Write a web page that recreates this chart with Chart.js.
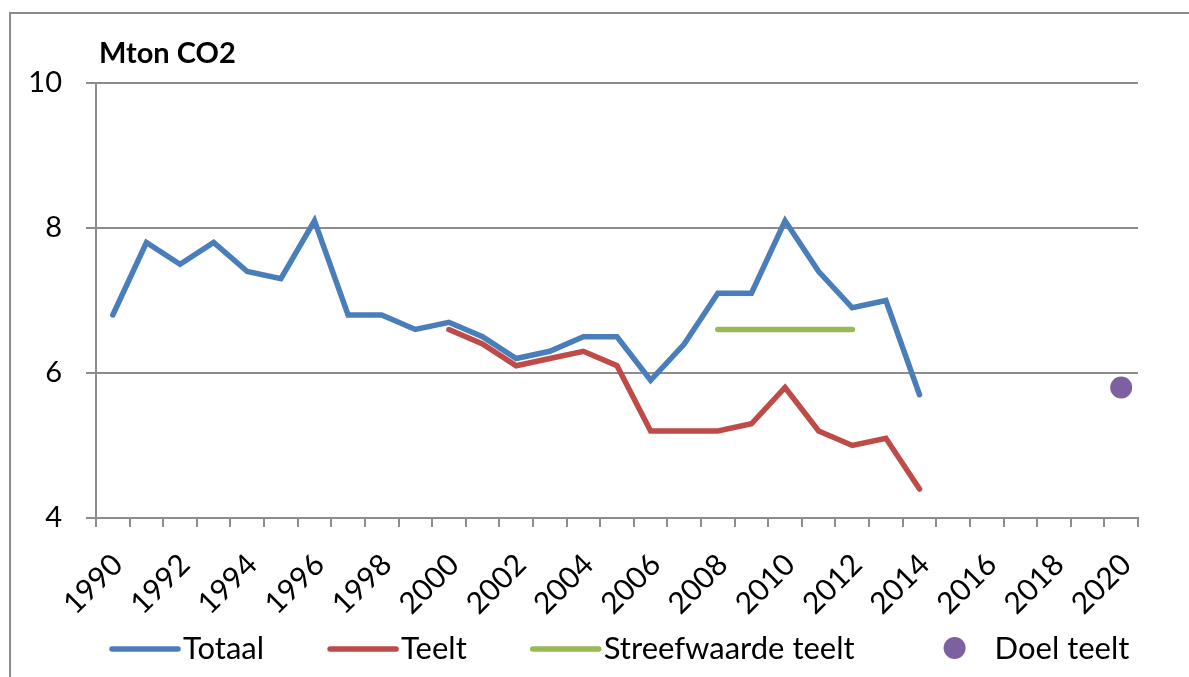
<!DOCTYPE html>
<html>
<head>
<meta charset="utf-8">
<script src="https://cdn.jsdelivr.net/npm/chart.js@4/dist/chart.umd.min.js"></script>
<style>
  html, body { margin: 0; padding: 0; background: #fff; }
  #wrap { width: 1189px; height: 677px; position: relative; }
</style>
</head>
<body>
<div id="wrap"><canvas id="co2Chart" width="1189" height="677"></canvas></div>
<script>
// Years on the category axis
const years = ['1990','1991','1992','1993','1994','1995','1996','1997','1998','1999',
               '2000','2001','2002','2003','2004','2005','2006','2007','2008','2009',
               '2010','2011','2012','2013','2014','2015','2016','2017','2018','2019','2020'];

// Mton CO2 per year (null = no value)
const totaal = [6.8, 7.8, 7.5, 7.8, 7.4, 7.3, 8.1, 6.8, 6.8, 6.6,
                6.7, 6.5, 6.2, 6.3, 6.5, 6.5, 5.9, 6.4, 7.1, 7.1,
                8.1, 7.4, 6.9, 7.0, 5.7, null, null, null, null, null, null];
const teelt = [null, null, null, null, null, null, null, null, null, null,
               6.6, 6.4, 6.1, 6.2, 6.3, 6.1, 5.2, 5.2, 5.2, 5.3,
               5.8, 5.2, 5.0, 5.1, 4.4, null, null, null, null, null, null];
const streefwaarde = [null, null, null, null, null, null, null, null, null, null,
                      null, null, null, null, null, null, null, null, 6.6, 6.6,
                      6.6, 6.6, 6.6, null, null, null, null, null, null, null, null];
const doel = [null, null, null, null, null, null, null, null, null, null,
              null, null, null, null, null, null, null, null, null, null,
              null, null, null, null, null, null, null, null, null, null, 5.8];

const yTicks = [4, 6, 8, 10];

const FONT = 'Lato, "Open Sans", sans-serif';
const GRID = '#8c8c8c';

// frame, title and legend drawn like the spreadsheet original
const decorPlugin = {
    id: 'decor',
    beforeDraw(chart) {
        const ctx = chart.ctx;
        ctx.save();
        ctx.strokeStyle = GRID;
        ctx.lineWidth = 2;
        ctx.beginPath();
        ctx.moveTo(10, chart.height);
        ctx.lineTo(10, 13);
        ctx.lineTo(chart.width, 13);
        ctx.stroke();
        ctx.restore();
    },
    afterDraw(chart) {
        const ctx = chart.ctx;
        const area = chart.chartArea;
        ctx.save();
        ctx.fillStyle = '#000';
        ctx.font = 'bold 29px ' + FONT;
        ctx.textBaseline = 'alphabetic';
        ctx.fillText('Mton CO2', area.left + 3, 63);

        ctx.font = '31px ' + FONT;
        ctx.textBaseline = 'middle';
        let x = 110;
        const y = 649;
        chart.data.datasets.forEach(ds => {
            if (ds.showLine === false) {
                ctx.fillStyle = ds.pointBackgroundColor;
                ctx.beginPath();
                ctx.arc(x + 36, y - 1, 11, 0, Math.PI * 2);
                ctx.fill();
            } else {
                ctx.strokeStyle = ds.borderColor;
                ctx.lineWidth = 5.5;
                ctx.lineCap = 'round';
                ctx.beginPath();
                ctx.moveTo(x + 2, y);
                ctx.lineTo(x + 68, y);
                ctx.stroke();
            }
            const tx = x + (ds.showLine === false ? 76 : 73);
            ctx.fillStyle = '#000';
            ctx.fillText(ds.label, tx, y);
            x = tx + ctx.measureText(ds.label).width + 64;
        });
        ctx.restore();
    }
};

const ctx = document.getElementById('co2Chart').getContext('2d');
const co2Chart = new Chart(ctx, {
    type: 'line',
    data: {
        labels: years,
        datasets: [
            { label: 'Totaal', data: totaal, borderColor: '#4a7ebb', borderWidth: 5.5,
              borderCapStyle: 'round', pointRadius: 0, pointHoverRadius: 0 },
            { label: 'Teelt', data: teelt, borderColor: '#be4b48', borderWidth: 5.5,
              borderCapStyle: 'round', pointRadius: 0, pointHoverRadius: 0 },
            { label: 'Streefwaarde teelt', data: streefwaarde, borderColor: '#98b954', borderWidth: 5.5,
              borderCapStyle: 'round', pointRadius: 0, pointHoverRadius: 0 },
            { label: 'Doel teelt', data: doel, showLine: false, borderWidth: 0,
              pointRadius: 11, pointHoverRadius: 11,
              pointBackgroundColor: '#7d60a0', pointBorderWidth: 0 }
        ]
    },
    options: {
        responsive: false,
        animation: false,
        layout: { padding: { top: 83, right: 51, left: 0, bottom: 0 } },
        plugins: {
            legend: { display: false },
            tooltip: { enabled: false }
        },
        scales: {
            x: {
                offset: true,
                grid: { offset: true, drawOnChartArea: false, tickLength: 9, color: GRID, lineWidth: 2 },
                border: { color: GRID, width: 2 },
                ticks: {
                    autoSkip: false,
                    minRotation: 45, maxRotation: 45,
                    padding: 20,
                    labelOffset: 5,
                    color: '#000',
                    font: { family: FONT, size: 30 },
                    callback: function (value, index) {
                        return index % 2 === 0 ? this.getLabelForValue(value) : '';
                    }
                },
                afterFit(scale) { scale.height = 159; }
            },
            y: {
                min: 4, max: 10,
                afterBuildTicks(scale) { scale.ticks = yTicks.map(v => ({ value: v })); },
                grid: { color: GRID, lineWidth: 2, tickLength: 10 },
                border: { color: GRID, width: 2 },
                ticks: {
                    padding: 24,
                    color: '#000',
                    font: { family: FONT, size: 29 }
                },
                afterFit(scale) { scale.width = 96; }
            }
        }
    },
    plugins: [decorPlugin]
});
</script>
</body>
</html>
